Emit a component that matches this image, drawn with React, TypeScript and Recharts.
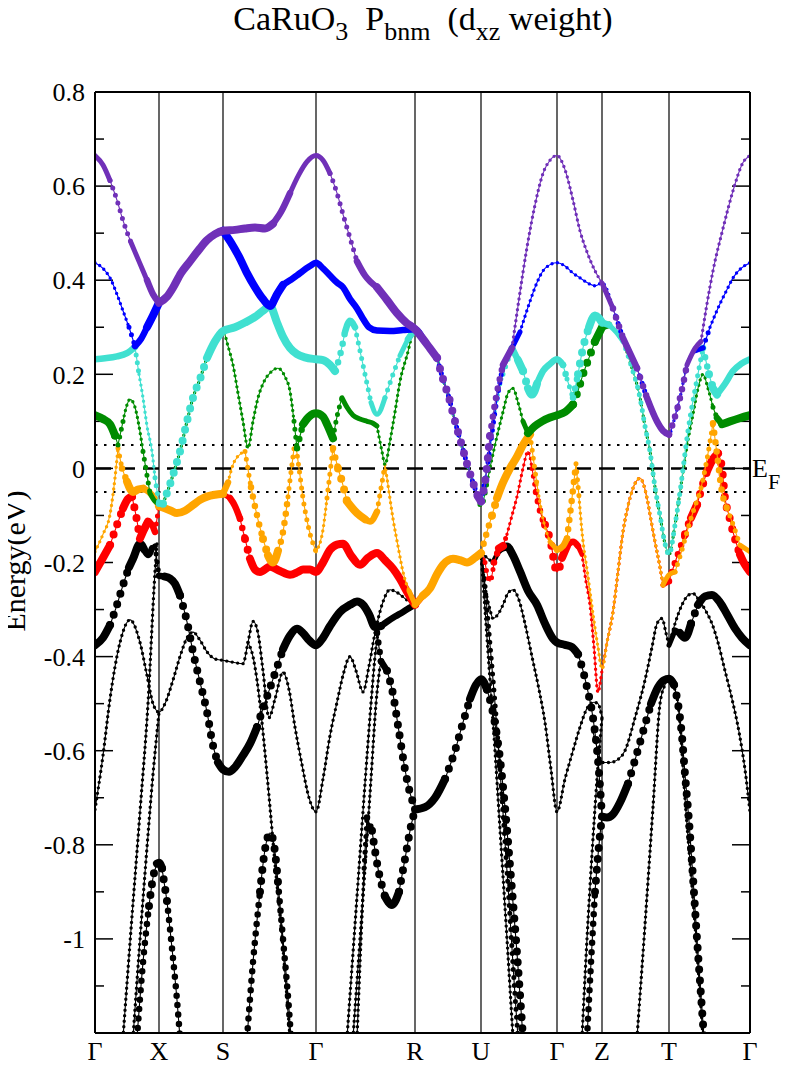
import React from 'react';
import { LineChart, Line, XAxis, YAxis, ReferenceLine } from 'recharts';

// [k, energy (eV), d_xz weight]
type Pt = [number, number, number];
type Pair = [number, number];

const K_TICKS = [0, 64, 128, 221, 320, 386, 462, 507, 574, 655];
const K_LABELS = ['Γ', 'X', 'S', 'Γ', 'R', 'U', 'Γ', 'Z', 'T', 'Γ'];
const E_TICKS = [-1, -0.8, -0.6, -0.4, -0.2, 0, 0.2, 0.4, 0.6, 0.8];
const E_MINOR = [-1.1, -0.9, -0.7, -0.5, -0.3, -0.1, 0.1, 0.3, 0.5, 0.7];

// pieces where several bands stick together
const TOP_XS: Pair[] = [[72, 0.365], [78, 0.384], [86, 0.415], [95, 0.44], [104, 0.465], [112, 0.485], [120, 0.498]];
const TOP_RU: Pair[] = [[328, 0.275], [335, 0.255], [342, 0.235], [348, 0.19], [354, 0.15], [360, 0.1], [366, 0.055], [372, 0.01], [378, -0.03], [383, -0.06]];
const TOP_ZT: Pair[] = [[518, 0.34], [528, 0.277], [535, 0.245], [542, 0.213], [552, 0.15], [562, 0.1], [568, 0.08]];
const MID_XS: Pair[] = [[68, -0.075], [74, -0.04], [80, 0.0], [85, 0.036], [92, 0.1], [98, 0.15], [105, 0.19], [112, 0.235], [120, 0.27]];
const MID_ZT: Pair[] = [[514, 0.305], [521, 0.29], [528, 0.27], [536, 0.22], [545, 0.15], [550, 0.09], [555, 0.036], [560, -0.04], [565, -0.1], [570, -0.16]];
const LOW_XS: Pair[] = [[70, -0.085], [76, -0.09], [82, -0.095], [90, -0.09], [98, -0.078], [105, -0.067], [112, -0.06], [120, -0.056]];
const LOW_RU: Pair[] = [[328, -0.27], [335, -0.255], [342, -0.225], [348, -0.205], [358, -0.192], [365, -0.195], [372, -0.2], [380, -0.19]];
const LOW_ZT: Pair[] = [[512, -0.37], [518, -0.305], [523, -0.22], [528, -0.135], [533, -0.08], [538, -0.042], [545, -0.021], [552, -0.063], [556, -0.11], [560, -0.156], [565, -0.21], [568, -0.248]];

const seg = (pts: Pair[], w: number): Pt[] => pts.map(([k, e]) => [k, e, w]);

const PURPLE: Pt[] = [
  [0, 0.665, .4], [8, 0.645, .4], [15, 0.612, .45], [22, 0.57, .5], [28, 0.527, .5], [36, 0.48, .5], [44, 0.44, .5], [52, 0.40, .55], [58, 0.37, .6], [64, 0.352, .7],
  ...seg(TOP_XS, .8),
  [128, 0.505, .8], [140, 0.507, .8], [150, 0.51, .8], [160, 0.512, .8], [170, 0.51, .8], [178, 0.52, .7], [186, 0.545, .6], [195, 0.585, .5], [204, 0.625, .5], [212, 0.652, .4], [221, 0.665, .4],
  [228, 0.655, .4], [235, 0.627, .4], [242, 0.585, .4], [248, 0.54, .4], [255, 0.49, .45], [262, 0.44, .5], [270, 0.41, .6], [282, 0.385, .7], [292, 0.358, .75], [302, 0.33, .8], [311, 0.31, .8], [320, 0.296, .8],
  ...seg(TOP_RU, .8),
  [386, -0.07, .7], [390, -0.03, .7], [395, 0.07, .7], [401, 0.15, .6], [408, 0.22, .6], [417, 0.256, .5], [424, 0.36, .25], [432, 0.47, .2], [440, 0.56, .2], [448, 0.627, .2], [455, 0.655, .2], [462, 0.665, .2],
  [470, 0.635, .2], [478, 0.57, .2], [485, 0.505, .2], [492, 0.46, .2], [500, 0.42, .2], [507, 0.394, .3],
  ...seg(TOP_ZT, .6),
  [574, 0.072, .6], [580, 0.11, .6], [585, 0.15, .6], [592, 0.22, .5], [600, 0.255, .5], [606, 0.27, .4], [612, 0.35, .2], [618, 0.42, .2], [628, 0.51, .2], [638, 0.59, .2], [648, 0.65, .2], [655, 0.665, .2],
];

const BLUE: Pt[] = [
  [0, 0.437, .3], [8, 0.425, .3], [15, 0.405, .3], [22, 0.37, .3], [28, 0.335, .3], [34, 0.3, .3], [40, 0.26, .5], [46, 0.275, .6], [52, 0.3, .7], [58, 0.325, .7], [64, 0.352, .7],
  ...seg(TOP_XS, .5),
  [128, 0.505, .8], [136, 0.48, .8], [144, 0.45, .8], [152, 0.415, .8], [160, 0.385, .8], [168, 0.36, .8], [175, 0.345, .8], [182, 0.37, .7], [188, 0.39, .7], [195, 0.4, .6], [202, 0.41, .6], [208, 0.42, .6], [215, 0.43, .6], [221, 0.437, .6],
  [228, 0.425, .6], [235, 0.41, .6], [242, 0.395, .6], [248, 0.385, .6], [255, 0.36, .6], [262, 0.34, .6], [268, 0.318, .6], [274, 0.3, .6], [282, 0.293, .6], [295, 0.292, .6], [308, 0.294, .6], [320, 0.296, .6],
  ...seg(TOP_RU, .5),
  [386, -0.07, .5], [392, 0.0, .4], [400, 0.12, .4], [408, 0.22, .4], [417, 0.256, .5], [425, 0.29, .3], [435, 0.355, .3], [442, 0.395, .3], [450, 0.425, .3], [462, 0.437, .3],
  [470, 0.43, .3], [478, 0.415, .3], [485, 0.405, .3], [492, 0.395, .3], [500, 0.388, .3], [507, 0.394, .3],
  ...seg(TOP_ZT, .4),
  [574, 0.072, .3], [580, 0.11, .3], [585, 0.15, .3], [592, 0.22, .3], [600, 0.25, .4], [608, 0.256, .6], [615, 0.3, .3], [625, 0.35, .3], [632, 0.38, .3], [638, 0.405, .3], [646, 0.425, .3], [655, 0.437, .3],
];

const CYAN: Pt[] = [
  [0, 0.232, .6], [10, 0.234, .6], [22, 0.238, .6], [32, 0.245, .6], [40, 0.258, .5], [44, 0.2, .3], [48, 0.15, .3], [52, 0.09, .3], [57, 0.036, .3], [60, -0.02, .3], [64, -0.075, .5],
  ...seg(MID_XS, .7),
  [128, 0.292, .7], [140, 0.3, .7], [150, 0.31, .7], [160, 0.322, .7], [168, 0.335, .7], [175, 0.345, .7], [182, 0.31, .7], [188, 0.28, .7], [195, 0.256, .7], [202, 0.243, .7], [210, 0.236, .7], [221, 0.232, .7],
  [228, 0.23, .7], [235, 0.22, .7], [240, 0.207, .7], [245, 0.24, .6], [250, 0.29, .6], [255, 0.314, .6], [260, 0.3, .5], [265, 0.25, .5], [270, 0.2, .4], [276, 0.14, .4], [282, 0.115, .4], [290, 0.15, .5], [298, 0.2, .5], [305, 0.24, .5], [313, 0.275, .5], [320, 0.296, .6],
  ...seg(TOP_RU, .3),
  [386, -0.075, .3], [392, 0.0, .3], [400, 0.12, .3], [408, 0.2, .3], [417, 0.256, .6], [423, 0.23, .7], [428, 0.207, .7], [433, 0.17, .7], [437, 0.157, .7], [442, 0.18, .7], [448, 0.207, .6], [455, 0.222, .6], [462, 0.232, .6],
  [468, 0.22, .6], [472, 0.19, .5], [478, 0.15, .5], [483, 0.2, .8], [488, 0.256, .8], [494, 0.3, .8], [500, 0.325, .8], [507, 0.31, .8],
  ...seg(MID_ZT, .5),
  [574, -0.183, .5], [580, -0.12, .4], [585, -0.05, .4], [593, 0.08, .4], [602, 0.19, .4], [608, 0.256, .6], [614, 0.2, .7], [618, 0.17, .7], [622, 0.157, .7], [630, 0.18, .6], [638, 0.207, .6], [646, 0.222, .6], [655, 0.232, .6],
];

const GREEN: Pt[] = [
  [0, 0.113, .8], [8, 0.105, .8], [15, 0.094, .8], [20, 0.07, .7], [23, 0.05, .7], [28, 0.1, .3], [32, 0.135, .3], [35, 0.147, .3], [40, 0.13, .3], [44, 0.09, .3], [48, 0.036, .3], [55, -0.053, .5], [60, -0.07, .5], [64, -0.075, .5],
  ...seg(MID_XS, .3),
  [128, 0.292, .3], [133, 0.26, .3], [138, 0.22, .3], [143, 0.16, .3], [148, 0.1, .3], [153, 0.043, .3], [158, 0.1, .3], [163, 0.15, .3], [168, 0.18, .3], [176, 0.205, .3], [183, 0.213, .3], [190, 0.195, .3], [195, 0.164, .3], [199, 0.1, .3], [202, 0.043, .5], [208, 0.094, .8], [214, 0.11, .8], [221, 0.117, .8],
  [228, 0.11, .8], [232, 0.094, .8], [238, 0.064, .6], [242, 0.11, .4], [247, 0.15, .4], [252, 0.13, .4], [258, 0.113, .4], [265, 0.105, .4], [272, 0.1, .4], [278, 0.096, .4], [282, 0.09, .4], [287, 0.036, .3], [290, 0.008, .3], [295, 0.058, .3], [300, 0.12, .3], [305, 0.185, .3], [312, 0.24, .3], [320, 0.296, .3],
  ...seg(TOP_RU, .3),
  [386, -0.08, .6], [392, -0.03, .3], [400, 0.05, .3], [408, 0.12, .3], [413, 0.16, .3], [418, 0.17, .3], [423, 0.14, .3], [428, 0.1, .3], [433, 0.075, .7], [440, 0.09, .8], [447, 0.1, .8], [455, 0.108, .8], [462, 0.113, .8],
  [470, 0.12, .8], [478, 0.136, .8], [483, 0.165, .8], [488, 0.2, .8], [494, 0.235, .8], [500, 0.27, .8], [507, 0.3, .8],
  ...seg(MID_ZT, .3),
  [574, -0.183, .3], [580, -0.12, .3], [585, -0.05, .3], [593, 0.06, .3], [598, 0.115, .3], [603, 0.17, .3], [608, 0.2, .3], [613, 0.17, .3], [618, 0.13, .3], [622, 0.107, .5], [627, 0.094, .7], [635, 0.1, .7], [645, 0.107, .7], [655, 0.113, .7],
];

const ORANGE: Pt[] = [
  [0, -0.177, .3], [8, -0.14, .3], [15, -0.098, .3], [20, -0.02, .3], [23, 0.043, .4], [27, 0.0, .6], [32, -0.028, .7], [38, -0.05, .7], [43, -0.045, .7], [48, -0.043, .7], [54, -0.05, .6], [60, -0.065, .6], [64, -0.08, .6],
  ...seg(LOW_XS, .8),
  [128, -0.054, .8], [133, -0.03, .3], [138, 0.008, .3], [145, 0.03, .3], [150, 0.036, .3], [156, -0.04, .5], [162, -0.1, .6], [168, -0.15, .7], [173, -0.185, .7], [178, -0.2, .7], [183, -0.175, .7], [188, -0.135, .6], [193, -0.06, .5], [197, 0.008, .5], [200, 0.05, .4], [204, 0.0, .4], [208, -0.063, .4], [214, -0.13, .4], [221, -0.177, .4],
  [228, -0.13, .3], [232, -0.063, .4], [238, 0.043, .6], [243, 0.0, .7], [247, -0.028, .7], [252, -0.07, .7], [262, -0.095, .7], [270, -0.108, .7], [275, -0.113, .6], [282, -0.092, .5], [287, -0.03, .4], [290, 0.008, .4], [294, -0.05, .3], [298, -0.107, .3], [303, -0.165, .3], [308, -0.22, .3], [314, -0.26, .3], [320, -0.29, .5],
  ...seg(LOW_RU, .7),
  [386, -0.18, .7], [392, -0.135, .5], [397, -0.1, .7], [402, -0.063, .8], [408, -0.03, .8], [415, 0.0, .8], [422, 0.025, .8], [428, 0.05, .8], [435, 0.072, .7], [442, -0.035, .3], [448, -0.107, .3], [455, -0.156, .3], [462, -0.173, .5],
  [468, -0.165, .6], [472, -0.149, .6], [477, -0.063, .6], [481, 0.01, .6], [484, -0.06, .4], [487, -0.135, .3], [493, -0.23, .3], [498, -0.31, .3], [503, -0.38, .3], [507, -0.426, .3],
  ...seg(LOW_ZT, .3),
  [574, -0.226, .5], [580, -0.22, .5], [586, -0.18, .5], [592, -0.135, .5], [600, -0.08, .5], [605, -0.05, .5], [612, 0.02, .5], [618, 0.096, .5], [622, 0.03, .6], [627, -0.05, .6], [632, -0.085, .5], [637, -0.113, .5], [645, -0.163, .5], [655, -0.177, .4],
];

const RED: Pt[] = [
  [0, -0.22, .8], [8, -0.19, .8], [15, -0.163, .8], [22, -0.12, .8], [28, -0.085, .8], [33, -0.065, .8], [37, -0.06, .7], [41, -0.1, .7], [45, -0.149, .7], [49, -0.13, .7], [53, -0.113, .7], [57, -0.12, .6], [60, -0.135, .5], [64, -0.08, .3],
  ...seg(LOW_XS, .3),
  [128, -0.054, .3], [135, -0.063, .5], [140, -0.08, .6], [145, -0.107, .6], [150, -0.15, .7], [155, -0.192, .8], [160, -0.215, .8], [165, -0.22, .8], [175, -0.209, .8], [185, -0.218, .8], [195, -0.226, .8], [203, -0.22, .8], [208, -0.215, .8], [215, -0.215, .8], [221, -0.22, .8],
  [228, -0.2, .8], [235, -0.173, .8], [242, -0.162, .8], [248, -0.16, .8], [256, -0.185, .8], [265, -0.205, .8], [273, -0.19, .8], [282, -0.18, .8], [290, -0.195, .8], [298, -0.213, .8], [305, -0.235, .8], [312, -0.262, .8], [320, -0.29, .8],
  ...seg(LOW_RU, .3),
  [386, -0.18, .3], [390, -0.2, .4], [395, -0.24, .4], [399, -0.2, .6], [404, -0.17, .7], [408, -0.165, .7], [412, -0.14, .3], [417, -0.1, .3], [422, -0.06, .3], [428, 0.0, .3], [433, 0.036, .3], [437, 0.0, .4], [441, -0.05, .5], [445, -0.09, .6], [450, -0.12, .7], [455, -0.15, .8], [462, -0.22, .8],
  [467, -0.19, .8], [472, -0.165, .7], [478, -0.156, .6], [483, -0.165, .5], [487, -0.183, .4], [491, -0.24, .3], [495, -0.29, .3], [499, -0.38, .3], [503, -0.476, .3], [507, -0.43, .3],
  ...seg(LOW_ZT, .3),
  [574, -0.24, .5], [580, -0.2, .6], [585, -0.17, .6], [590, -0.14, .7], [596, -0.105, .7], [602, -0.077, .8], [607, -0.04, .8], [612, -0.006, .8], [618, 0.02, .8], [623, 0.032, .8], [627, 0.0, .7], [630, -0.063, .7], [634, -0.1, .7], [638, -0.135, .7], [645, -0.183, .7], [650, -0.205, .8], [655, -0.22, .8],
];

// black (other orbital) bands, some only over part of the path
const BLACK_A: Pt[] = [
  [0, -0.376, .8], [8, -0.36, .8], [15, -0.333, .8], [22, -0.29, .8], [28, -0.248, .8], [34, -0.21, .8], [38, -0.192, .8], [45, -0.16, .8], [49, -0.172, .6], [53, -0.184, .6], [57, -0.17, .5], [60, -0.165, .4], [64, -0.228, .5],
  [70, -0.23, .8], [75, -0.234, .8], [80, -0.245, .8], [85, -0.27, .8], [92, -0.326, .8], [98, -0.39, .8], [105, -0.454, .8], [112, -0.518, .8], [118, -0.589, .8], [123, -0.625, .8], [128, -0.64, .8],
  [134, -0.645, .8], [140, -0.635, .8], [148, -0.61, .8], [155, -0.585, .8], [162, -0.55, .8], [168, -0.51, .8], [178, -0.448, .8], [188, -0.384, .8], [195, -0.355, .8], [202, -0.341, .8], [208, -0.35, .8], [214, -0.365, .8], [221, -0.376, .8],
  [228, -0.36, .8], [235, -0.335, .8], [245, -0.305, .8], [255, -0.29, .8], [262, -0.283, .8], [268, -0.29, .8], [274, -0.31, .8], [280, -0.337, .8], [286, -0.335, .6], [292, -0.326, .6], [300, -0.315, .6], [308, -0.305, .6], [314, -0.297, .6], [320, -0.29, .6],
  ...seg(LOW_RU, .1),
  [386, -0.18, .2], [392, -0.19, .3], [398, -0.2, .4], [404, -0.175, .6], [408, -0.168, .7], [412, -0.166, .8], [418, -0.185, .8], [425, -0.219, .8], [433, -0.26, .8], [442, -0.29, .8], [450, -0.33, .8], [458, -0.362, .8], [462, -0.37, .8],
  [470, -0.375, .8], [477, -0.38, .8], [483, -0.395, .8], [488, -0.43, .8], [493, -0.475, .8], [498, -0.53, .8], [503, -0.62, .8], [507, -0.74, .8],
  [512, -0.742, .8], [518, -0.735, .8], [525, -0.71, .8], [533, -0.67, .8], [540, -0.62, .8], [548, -0.56, .8], [556, -0.5, .8], [563, -0.465, .8], [569, -0.45, .8], [574, -0.447, .8],
  [579, -0.46, .8], [583, -0.5, .8], [587, -0.57, .8], [590, -0.65, .8], [594, -0.75, .8], [598, -0.87, .8], [602, -1.0, .8], [606, -1.12, .8], [609, -1.21, .8],
];
const BLACK_Z: Pt[] = [
  [498, -0.56, .3], [503, -0.6, .3], [507, -0.625, .3], [515, -0.625, .3], [522, -0.62, .3], [530, -0.6, .3], [540, -0.53, .3], [550, -0.45, .3], [557, -0.38, .3], [562, -0.33, .3], [567, -0.319, .3], [571, -0.35, .3], [574, -0.376, .3],
  [580, -0.345, .6], [585, -0.35, .7], [590, -0.36, .8], [596, -0.33, .8], [603, -0.29, .8], [610, -0.272, .8], [617, -0.269, .8], [625, -0.285, .8], [632, -0.31, .8], [640, -0.34, .8], [647, -0.36, .8], [655, -0.376, .8],
];
const BLACK_B: Pt[] = [
  [0, -0.725, .25], [8, -0.61, .25], [15, -0.49, .25], [25, -0.37, .25], [35, -0.322, .25], [45, -0.37, .25], [52, -0.44, .25], [58, -0.5, .25], [64, -0.518, .3],
  [70, -0.5, .3], [78, -0.45, .3], [85, -0.4, .3], [92, -0.36, .3], [98, -0.348, .3], [105, -0.365, .3], [112, -0.39, .3], [120, -0.405, .3], [128, -0.408, .3],
  [138, -0.412, .3], [148, -0.415, .3], [153, -0.37, .3], [158, -0.325, .3], [163, -0.35, .3], [168, -0.43, .3], [174, -0.53, .3], [180, -0.49, .3], [188, -0.433, .3], [194, -0.47, .3], [200, -0.55, .3], [207, -0.63, .3], [214, -0.7, .3], [221, -0.73, .3],
  [228, -0.66, .3], [235, -0.568, .3], [242, -0.497, .3], [248, -0.44, .3], [255, -0.40, .3], [261, -0.43, .3], [268, -0.475, .3], [274, -0.42, .3], [280, -0.35, .3], [287, -0.29, .3], [295, -0.258, .3], [303, -0.265, .3], [312, -0.28, .3], [320, -0.29, .3],
];
const BLACK_U: Pt[] = [
  [386, -0.18, .3], [390, -0.25, .3], [395, -0.3, .3], [398, -0.319, .3], [403, -0.31, .3], [408, -0.29, .3], [413, -0.265, .3], [418, -0.258, .3], [424, -0.28, .3], [430, -0.33, .3], [437, -0.4, .3], [444, -0.47, .3], [450, -0.54, .3], [456, -0.64, .3], [462, -0.73, .3],
  [470, -0.66, .3], [478, -0.6, .3], [485, -0.55, .3], [492, -0.51, .3], [499, -0.497, .3], [503, -0.5, .3], [507, -0.53, .3],
];
const BLACK_T: Pt[] = [
  [574, -0.376, .3], [580, -0.33, .3], [587, -0.29, .3], [593, -0.27, .3], [598, -0.266, .3], [604, -0.28, .3], [610, -0.3, .3], [617, -0.33, .3], [623, -0.37, .3], [630, -0.43, .3], [637, -0.49, .3], [644, -0.56, .3], [650, -0.64, .3], [655, -0.73, .3],
];
const BLACK_R: Pt[] = [
  [282, -0.35, .5], [286, -0.41, .6], [292, -0.43, .7], [298, -0.48, .7], [304, -0.56, .7], [310, -0.64, .8], [315, -0.69, .8], [320, -0.72, .8],
];
const BLACK_RU: Pt[] = [
  [262, -1.21, .3], [266, -1.0, .3], [269, -0.85, .3], [272, -0.742, .6], [277, -0.77, .7], [283, -0.85, .7], [290, -0.91, .8], [297, -0.928, .8], [304, -0.9, .8], [310, -0.83, .8], [316, -0.76, .8], [320, -0.725, .8],
  [330, -0.72, .8], [340, -0.7, .8], [350, -0.66, .8], [360, -0.6, .8], [368, -0.54, .8], [375, -0.49, .8], [381, -0.46, .8], [386, -0.448, .8],
  [392, -0.47, .7], [398, -0.52, .7], [404, -0.6, .7], [410, -0.72, .7], [416, -0.87, .7], [422, -1.03, .7], [428, -1.21, .7],
];
const STEEP: Pt[][] = [
  [[28, -1.21, .3], [36, -0.98, .3], [45, -0.73, .3], [53, -0.5, .3], [60, -0.22, .3], [62, -0.16, .3]],
  [[38, -1.21, .3], [44, -1.03, .3], [50, -0.86, .3], [58, -0.65, .3], [64, -0.518, .3]],
  [[42, -1.21, .6], [48, -1.05, .6], [54, -0.93, .7], [58, -0.87, .7], [62, -0.84, .8], [64, -0.838, .8], [67, -0.85, .7], [72, -0.92, .7], [77, -1.02, .6], [82, -1.13, .6], [85, -1.21, .6]],
  [[153, -0.37, .3], [158, -0.4, .3], [162, -0.45, .3], [166, -0.52, .3], [172, -0.65, .3], [180, -0.84, .3], [188, -1.02, .3], [195, -1.21, .3]],
  [[152, -1.21, .6], [158, -1.05, .6], [165, -0.9, .7], [170, -0.81, .7], [175, -0.775, .8], [179, -0.8, .7], [183, -0.88, .7], [188, -1.0, .6], [194, -1.15, .6], [196, -1.21, .6]],
  [[252, -1.21, .3], [258, -1.03, .3], [264, -0.85, .3], [270, -0.67, .3], [276, -0.5, .3], [281, -0.38, .3], [285, -0.33, .3]],
  [[258, -1.21, .3], [264, -1.03, .3], [270, -0.85, .3], [276, -0.66, .3], [281, -0.5, .3], [285, -0.42, .3]],
  [[386, -0.18, .3], [390, -0.3, .3], [395, -0.45, .3], [400, -0.6, .3], [406, -0.8, .3], [412, -1.0, .3], [418, -1.21, .3]],
  [[388, -0.2, .5], [394, -0.35, .5], [400, -0.5, .5], [407, -0.7, .5], [414, -0.92, .5], [420, -1.12, .5], [423, -1.21, .5]],
  [[487, -1.21, .3], [492, -1.0, .3], [497, -0.82, .3], [502, -0.66, .3], [507, -0.53, .3]],
  [[492, -1.21, .6], [496, -1.05, .6], [500, -0.9, .7], [504, -0.8, .7], [507, -0.74, .8]],
  [[542, -1.21, .3], [550, -0.97, .3], [558, -0.72, .3], [565, -0.5, .3], [570, -0.46, .3], [574, -0.447, .3], [578, -0.46, .3], [583, -0.5, .3], [591, -0.73, .3], [600, -0.97, .3], [608, -1.21, .3]],
];

const BANDS: { pts: Pt[]; color: string }[] = [
  ...[BLACK_A, BLACK_Z, BLACK_B, BLACK_U, BLACK_T, BLACK_R, BLACK_RU, ...STEEP].map((pts) => ({ pts, color: '#000000' })),
  { pts: RED, color: '#ff0000' },
  { pts: ORANGE, color: '#ffa500' },
  { pts: GREEN, color: '#008c00' },
  { pts: CYAN, color: '#40e0d0' },
  { pts: BLUE, color: '#0000ff' },
  { pts: PURPLE, color: '#7030b8' },
];

const serif = "'Liberation Serif', Tinos, 'Times New Roman', 'DejaVu Serif', serif";

// fat-band look: marker size follows the weight; flat runs read as a solid
// thick line, steep runs as a chain of separate markers on a thin line
const SIZES = [3.4, 5, 6.5, 8];
const bucketOf = (w: number) => (w >= 0.7 ? 3 : w >= 0.55 ? 2 : w >= 0.4 ? 1 : 0);

type Run = { rows: { k: number; e: number }[]; size: number; beads: boolean; gap: number };

const runsOf = (pts: Pt[]): Run[] => {
  const runs: Run[] = [];
  for (let i = 0; i < pts.length - 1; i++) {
    const [k0, e0, w0] = pts[i];
    const [k1, e1, w1] = pts[i + 1];
    const b = bucketOf((w0 + w1) / 2);
    const steep = (Math.abs(e1 - e0) * 470) / Math.max(k1 - k0, 1) > 2.6;
    const beads = b === 0 || steep;
    const size = SIZES[b];
    const gap = b === 0 ? 5.5 : size + 3;
    const last = runs[runs.length - 1];
    if (last && last.size === size && last.beads === beads) last.rows.push({ k: k1, e: e1 });
    else runs.push({ rows: [{ k: k0, e: e0 }, { k: k1, e: e1 }], size, beads, gap });
  }
  return runs;
};

const tickLabel = (v: number) => {
  const i = K_TICKS.indexOf(v);
  return i >= 0 ? K_LABELS[i] : '';
};

const subStyle: React.CSSProperties = { fontSize: 26, position: 'relative', top: 10 };

export default function App() {
  return (
    <div style={{ position: 'relative', width: 781, height: 1057, fontFamily: serif }}>
      <div style={{ position: 'absolute', left: 415, top: -6, transform: 'translateX(-50%)', fontSize: 34, lineHeight: 1, whiteSpace: 'pre' }}>
        CaRuO<span style={subStyle}>3</span>{'  '}P<span style={subStyle}>bnm</span>{'  '}(d<span style={subStyle}>xz</span> weight)
      </div>
      <div style={{ position: 'absolute', left: 7, top: 553, transform: 'translate(-50%, -50%) rotate(-90deg)', fontSize: 30, lineHeight: 1, whiteSpace: 'nowrap' }}>
        Energy(eV)
      </div>
      <div style={{ position: 'absolute', left: 744, top: 448, fontSize: 26, lineHeight: 1 }}>
        E<span style={{ fontSize: 22, position: 'relative', top: 12 }}>F</span>
      </div>
      <LineChart width={781} height={1057} margin={{ top: 84, right: 39, bottom: 0, left: 0 }}>
        <XAxis
          type="number"
          dataKey="k"
          domain={[0, 655]}
          ticks={K_TICKS}
          interval={0}
          allowDataOverflow
          tickFormatter={tickLabel}
          axisLine={false}
          tickLine={false}
          tickSize={4}
          tickMargin={5}
          height={32}
          tick={{ fontSize: 26, fill: '#000', fontFamily: serif }}
        />
        <YAxis
          type="number"
          domain={[-1.2, 0.8]}
          ticks={E_TICKS}
          interval={0}
          allowDataOverflow
          tickFormatter={(v: number) => String(Math.round(v * 10) / 10)}
          axisLine={false}
          tickLine={false}
          tickSize={6}
          tickMargin={4}
          width={87}
          tick={{ fontSize: 26, fill: '#000', fontFamily: serif }}
        />
        {K_TICKS.slice(1, -1).map((k) => (
          <ReferenceLine key={`v-${k}`} x={k} stroke="#000" strokeWidth={1.2} />
        ))}
        <ReferenceLine y={0} stroke="#000" strokeWidth={2.5} strokeDasharray="16 8" />
        <ReferenceLine y={0.05} stroke="#000" strokeWidth={2} strokeDasharray="2.5 6.5" />
        <ReferenceLine y={-0.05} stroke="#000" strokeWidth={2} strokeDasharray="2.5 6.5" />
        {E_TICKS.map((e) => (
          <ReferenceLine key={`ml-${e}`} segment={[{ x: 0, y: e }, { x: 18, y: e }]} stroke="#000" strokeWidth={1.5} />
        ))}
        {E_TICKS.map((e) => (
          <ReferenceLine key={`mr-${e}`} segment={[{ x: 637, y: e }, { x: 655, y: e }]} stroke="#000" strokeWidth={1.5} />
        ))}
        {E_MINOR.map((e) => (
          <ReferenceLine key={`nl-${e}`} segment={[{ x: 0, y: e }, { x: 9, y: e }]} stroke="#000" strokeWidth={1.5} />
        ))}
        {E_MINOR.map((e) => (
          <ReferenceLine key={`nr-${e}`} segment={[{ x: 646, y: e }, { x: 655, y: e }]} stroke="#000" strokeWidth={1.5} />
        ))}
        {BANDS.flatMap((b, i) =>
          runsOf(b.pts).flatMap((r, j) =>
            r.beads
              ? [
                  <Line
                    key={`t-${i}-${j}`}
                    data={r.rows}
                    dataKey="e"
                    type="monotone"
                    stroke={b.color}
                    strokeWidth={1.1}
                    dot={false}
                    activeDot={false}
                    isAnimationActive={false}
                  />,
                  <Line
                    key={`m-${i}-${j}`}
                    data={r.rows}
                    dataKey="e"
                    type="monotone"
                    stroke={b.color}
                    strokeWidth={r.size}
                    strokeDasharray={`0 ${r.gap}`}
                    strokeLinecap="round"
                    dot={false}
                    activeDot={false}
                    isAnimationActive={false}
                  />,
                ]
              : [
                  <Line
                    key={`s-${i}-${j}`}
                    data={r.rows}
                    dataKey="e"
                    type="monotone"
                    stroke={b.color}
                    strokeWidth={r.size}
                    strokeLinecap="round"
                    dot={false}
                    activeDot={false}
                    isAnimationActive={false}
                  />,
                ],
          ),
        )}
        <ReferenceLine x={0} stroke="#000" strokeWidth={2} />
        <ReferenceLine x={655} stroke="#000" strokeWidth={2} />
        <ReferenceLine y={0.8} stroke="#000" strokeWidth={2} />
        <ReferenceLine y={-1.2} stroke="#000" strokeWidth={2} />
      </LineChart>
    </div>
  );
}
